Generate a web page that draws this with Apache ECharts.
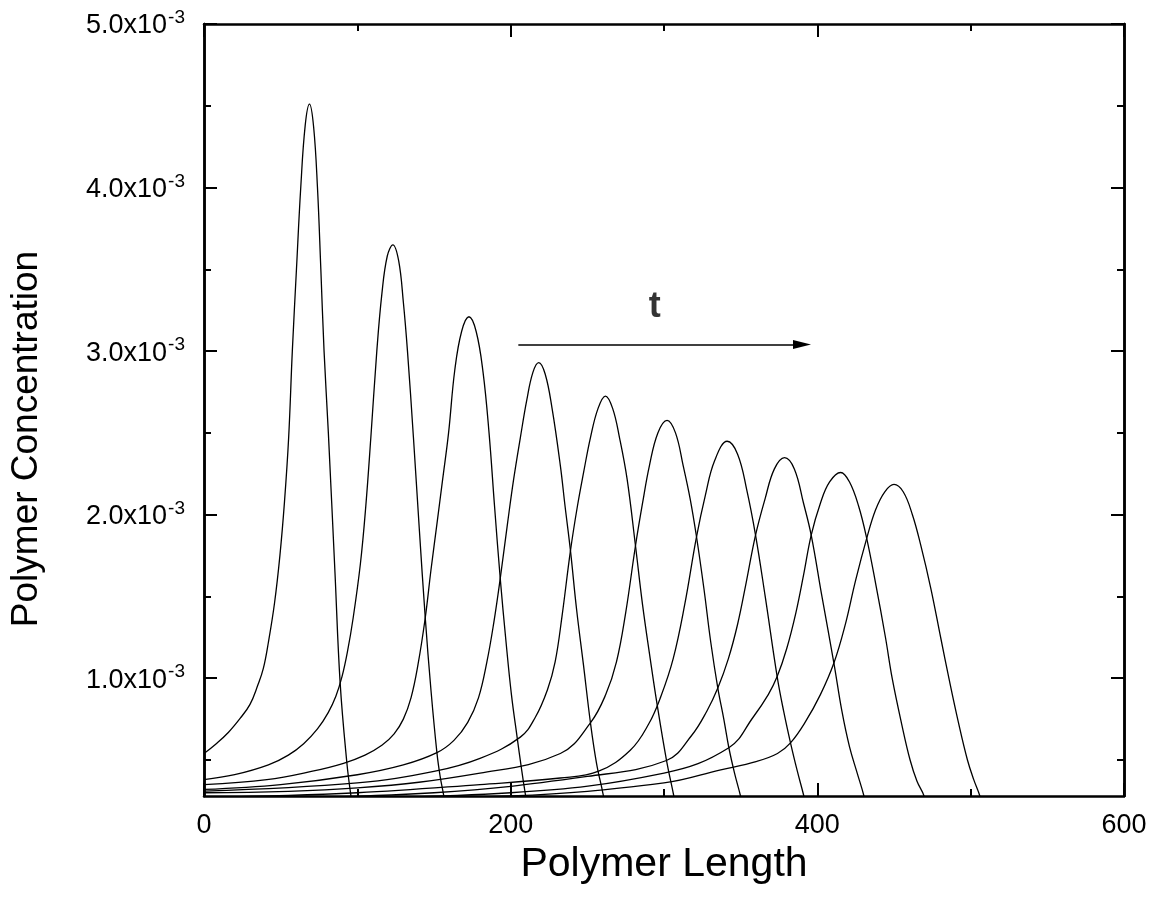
<!DOCTYPE html>
<html><head><meta charset="utf-8">
<script src="https://cdn.jsdelivr.net/npm/echarts@6/dist/echarts.min.js"></script>
<style>html,body{margin:0;padding:0;background:#fff}#chart{width:1162px;height:899px}</style>
</head><body><div id="chart"></div>
<script>
// ---------- data (y in units of 1e-3) ----------
const xName = 'Polymer Length';
const yName = 'Polymer Concentration';
const yUnit = 1e-3;
const xMin = 0, xMax = 600, xStep = 200;
const yMin = 0.28, yMax = 5.0;
const yMajorTicks = [1, 2, 3, 4, 5];
const yMinorTicks = [0.5, 1.5, 2.5, 3.5, 4.5];

const c1x = [0, 8, 16, 24, 30, 35, 38.7, 42, 46, 49.5, 52.5, 55.2, 57.6, 60.3, 63.1, 66, 68.8, 71.5, 74.0, 76.2, 78.3, 81.1, 85.4, 88.8, 93.2, 95.7, 97.5];
const c1y = [0.54, 0.60, 0.67, 0.76, 0.84, 0.955, 1.06, 1.22, 1.46, 1.75, 2.08, 2.47, 3.0, 3.5, 4.0, 4.38, 4.51, 4.37, 4.0, 3.5, 3.0, 2.5, 1.65, 0.97, 0.48, 0.29, 0.18];

const c2x = [0, 20, 42, 55, 65, 74, 81, 86, 90, 93.5, 97.3, 102, 105.5, 108.8, 112.7, 116, 119.5, 123.2, 127, 130, 132.7, 136.6, 140.5, 144.3, 148, 151.9, 154, 156.2, 158];
const c2y = [0.38, 0.41, 0.47, 0.53, 0.60, 0.69, 0.79, 0.89, 1.01, 1.16, 1.37, 1.7, 2.05, 2.47, 3.0, 3.35, 3.58, 3.65, 3.55, 3.3, 3.0, 2.47, 1.9, 1.37, 0.93, 0.545, 0.40, 0.29, 0.18];

const c3x = [0, 41, 70, 91, 105, 116, 124, 130, 135, 139.5, 144.3, 148, 152, 155.7, 159.5, 163.5, 168, 172.8, 177.5, 182, 185.9, 189.5, 193.2, 197, 200.5, 204.2, 207, 209.6, 211.5];
const c3y = [0.35, 0.38, 0.43, 0.48, 0.53, 0.59, 0.66, 0.75, 0.88, 1.08, 1.37, 1.66, 1.95, 2.22, 2.5, 2.88, 3.12, 3.21, 3.12, 2.87, 2.5, 2.05, 1.61, 1.22, 0.9, 0.64, 0.45, 0.29, 0.18];

const c4x = [0, 50, 100, 130, 151.9, 163, 172, 179, 184.5, 189, 193.2, 198, 202, 206.3, 210.5, 214.5, 218.3, 222.5, 227, 232.4, 235.5, 239, 243, 247.5, 252, 256, 260.3, 262.5];
const c4y = [0.32, 0.35, 0.41, 0.47, 0.545, 0.62, 0.73, 0.88, 1.1, 1.34, 1.61, 1.95, 2.22, 2.47, 2.7, 2.87, 2.93, 2.86, 2.65, 2.30, 2.05, 1.78, 1.42, 1.08, 0.73, 0.48, 0.29, 0.17];

const c5x = [0, 100, 150, 180, 206.3, 216, 224, 229, 233.5, 239, 243.5, 247.6, 252, 257, 261.8, 266.5, 271, 275.9, 281.4, 286, 291, 295.5, 301.6, 306.4, 308.5];
const c5y = [0.31, 0.36, 0.43, 0.51, 0.64, 0.76, 0.93, 1.1, 1.38, 1.78, 2.05, 2.26, 2.47, 2.65, 2.725, 2.65, 2.47, 2.22, 1.81, 1.45, 1.12, 0.84, 0.50, 0.28, 0.17];

const c6x = [0, 100, 180, 232.4, 252, 262, 269, 275, 281.4, 286, 290.5, 296, 302, 307.5, 312.5, 317, 321.2, 326, 330.5, 335.1, 339, 342.3, 346, 349.9, 352];
const c6y = [0.30, 0.33, 0.42, 0.54, 0.727, 0.90, 1.1, 1.4, 1.81, 2.07, 2.3, 2.5, 2.577, 2.5, 2.3, 2.1, 1.865, 1.55, 1.22, 0.94, 0.75, 0.575, 0.42, 0.28, 0.18];

const c7x = [0, 100, 180, 232.4, 257.4, 278, 290, 298, 306, 313.5, 321.2, 327, 333, 341.2, 348, 354, 359.7, 366, 373.8, 378, 382.5, 387, 391.2, 393];
const c7y = [0.27, 0.30, 0.35, 0.39, 0.432, 0.56, 0.72, 0.89, 1.12, 1.45, 1.865, 2.12, 2.33, 2.449, 2.37, 2.15, 1.875, 1.5, 1.01, 0.8, 0.605, 0.43, 0.28, 0.2];

const c8x = [0, 150, 250, 301.6, 318, 328, 335.1, 342, 348, 353.5, 359.7, 366, 372, 378.6, 385, 391, 396, 403, 410.8, 416, 421, 426, 430.4, 432];
const c8y = [0.26, 0.30, 0.40, 0.497, 0.65, 0.80, 0.94, 1.12, 1.33, 1.58, 1.875, 2.1, 2.28, 2.349, 2.28, 2.07, 1.875, 1.5, 1.093, 0.8, 0.58, 0.42, 0.28, 0.2];

const c9x = [0, 200, 300, 342.3, 358, 368, 373.8, 380, 386, 391, 396, 402, 408, 415.2, 421, 427, 432.2, 438, 444.5, 448.8, 455, 460.5, 465, 469.6, 471.5];
const c9y = [0.25, 0.30, 0.42, 0.575, 0.76, 0.9, 1.01, 1.18, 1.4, 1.63, 1.875, 2.07, 2.2, 2.258, 2.2, 2.05, 1.855, 1.58, 1.246, 1.0, 0.72, 0.5, 0.37, 0.28, 0.18];

const c10x = [0, 200, 300, 337, 360, 374, 382.5, 392, 402, 410.8, 418, 425, 432.2, 438, 444, 450, 456, 462, 467.4, 474, 480.5, 485.8, 492, 497.9, 502, 506, 508];
const c10y = [0.24, 0.28, 0.36, 0.44, 0.49, 0.54, 0.605, 0.73, 0.9, 1.093, 1.32, 1.6, 1.855, 2.03, 2.14, 2.185, 2.14, 2.0, 1.815, 1.55, 1.246, 1.0, 0.73, 0.5, 0.38, 0.28, 0.2];

const curves = [[c1x, c1y], [c2x, c2y], [c3x, c3y], [c4x, c4y], [c5x, c5y], [c6x, c6y], [c7x, c7y], [c8x, c8y], [c9x, c9y], [c10x, c10y]];

// annotation: time arrow (data coords, y in 1e-3)
const arrowStart = [205, 3.04];
const arrowEnd = [390, 3.04];
const timeLabel = 't';
const timeLabelPos = [294, 3.27];

// ---------- chart ----------
const FONT = '"Liberation Sans", Arial, Helvetica, sans-serif';
const AXIS_W = 2.5;
const MAJOR = 13, MINOR = 7;

function yAxisCfg(position, ticks, len, showLabels, name) {
  return {
    type: 'value', position: position, min: yMin * yUnit, max: yMax * yUnit,
    name: name || '', nameLocation: 'middle', nameGap: 159,
    nameTextStyle: { fontFamily: FONT, fontSize: 37, color: '#000', padding: [0, 58, 0, 0] },
    axisLine: { show: true, onZero: false, lineStyle: { color: '#000', width: AXIS_W } },
    axisTick: { show: true, inside: true, length: len, customValues: ticks.map(v => v * yUnit), lineStyle: { color: '#000', width: 2 } },
    axisLabel: {
      show: showLabels, margin: 19, customValues: yMajorTicks.map(v => v * yUnit),
      formatter: v => '{a|' + (v / yUnit).toFixed(1) + 'x10}{s|-3}',
      rich: {
        a: { fontFamily: FONT, fontSize: 27, color: '#000', lineHeight: 31, verticalAlign: 'bottom' },
        s: { fontFamily: FONT, fontSize: 19, color: '#000', lineHeight: 31, verticalAlign: 'top', padding: [0, 0, 0, 1] }
      }
    },
    splitLine: { show: false }
  };
}
function xAxisCfg(position, showLabels, name) {
  return {
    type: 'value', position: position, min: xMin, max: xMax, interval: xStep,
    name: name || '', nameLocation: 'middle', nameGap: 43,
    nameTextStyle: { fontFamily: FONT, fontSize: 41, color: '#000' },
    axisLine: { show: true, onZero: false, lineStyle: { color: '#000', width: AXIS_W } },
    axisTick: { show: true, inside: true, length: MAJOR, lineStyle: { color: '#000', width: 2 } },
    minorTick: { show: true, splitNumber: 2, length: MINOR, lineStyle: { color: '#000', width: 2 } },
    axisLabel: { show: showLabels, margin: 16, fontFamily: FONT, fontSize: 27, color: '#000' },
    splitLine: { show: false }, minorSplitLine: { show: false }
  };
}

const series = curves.map(([xs, ys], i) => ({
  type: 'line', xAxisIndex: 0, yAxisIndex: 0,
  data: xs.map((x, k) => [x, ys[k] * yUnit]),
  showSymbol: false, smooth: 0.4, clip: true,
  lineStyle: { color: '#000', width: 1.3 },
  silent: true, z: 3
}));
series.push({
  type: 'line', xAxisIndex: 0, yAxisIndex: 0, data: [],
  markLine: {
    silent: true, symbol: ['none', 'triangle'], symbolSize: [9, 18],
    lineStyle: { color: '#000', width: 1.6, type: 'solid' },
    label: { show: false },
    data: [[{ coord: [arrowStart[0], arrowStart[1] * yUnit] }, { coord: [arrowEnd[0], arrowEnd[1] * yUnit] }]]
  }
});
series.push({
  type: 'scatter', xAxisIndex: 0, yAxisIndex: 0, silent: true,
  symbolSize: 0,
  data: [[timeLabelPos[0], timeLabelPos[1] * yUnit]],
  label: { show: true, position: 'inside', formatter: timeLabel, fontFamily: FONT, fontSize: 36, fontWeight: 'bold', color: '#000' }
});

const chart = echarts.init(document.getElementById('chart'), null, { renderer: 'canvas' });
chart.setOption({
  animation: false,
  backgroundColor: '#fff',
  grid: { left: 204, right: 38, top: 24, bottom: 103, containLabel: false, outerBoundsMode: 'none' },
  xAxis: [xAxisCfg('bottom', true, xName), xAxisCfg('top', false)],
  yAxis: [
    yAxisCfg('left', yMajorTicks, MAJOR, true, yName),
    yAxisCfg('left', yMinorTicks, MINOR, false),
    yAxisCfg('right', yMajorTicks, MAJOR, false),
    yAxisCfg('right', yMinorTicks, MINOR, false)
  ],
  series: series
});
</script></body></html>
